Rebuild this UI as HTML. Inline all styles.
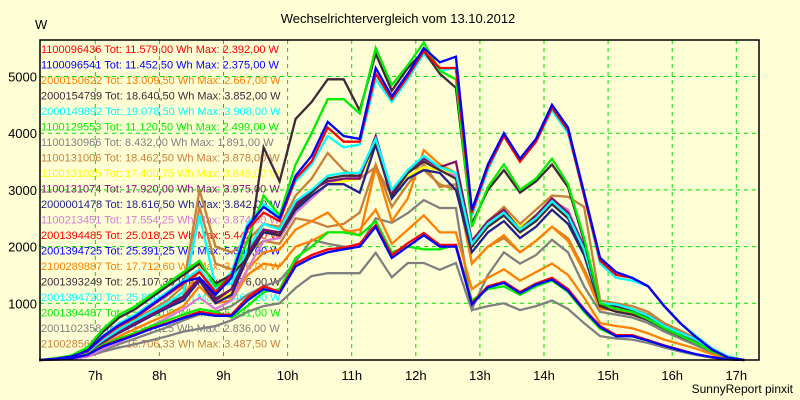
<!DOCTYPE html>
<html><head><meta charset="utf-8"><style>
html,body{margin:0;padding:0;background:#ffffd6;}
svg{display:block;font-family:"Liberation Sans",Arial,sans-serif;}
</style></head><body>
<svg id="chart" width="800" height="400" viewBox="0 0 800 400">
<rect x="0" y="0" width="800" height="400" fill="#ffffd6"/>
<text x="398" y="23" font-size="13" text-anchor="middle">Wechselrichtervergleich vom 13.10.2012</text>
<text x="35" y="29" font-size="13">W</text>
<text x="793" y="393" font-size="12" text-anchor="end">SunnyReport pinxit</text>
<g id="legend"></g>
<g id="grid"></g>
<g id="series"></g>
<g id="axes"></g>
</svg>
<script>
const hourTicks = [7,8,9,10,11,12,13,14,15,16,17];
const valueTicks = [1000,2000,3000,4000,5000];
const startHour = 6.125;
const stepHour = 0.25;

const s01 = [0,10,30,90,250,350,450,560,650,750,850,800,800,1100,1300,1200,1700,1850,1950,1980,2050,2380,1850,2060,2240,2030,2030,1000,1300,1380,1200,1350,1450,1250,900,600,440,440,350,260,180,100,50,10,0];
const s02 = [0,10,30,90,240,340,440,550,640,740,820,780,780,1050,1250,1180,1650,1800,1900,1950,2000,2350,1800,2000,2200,2000,2000,980,1280,1360,1180,1330,1420,1220,880,580,420,420,340,250,170,100,50,10,0];
const s03 = [0,10,30,100,280,420,550,680,800,950,1300,1000,1050,1500,1700,1650,2000,2100,2250,2250,2300,2650,2050,2300,2550,2250,2250,1250,1450,1600,1400,1550,1700,1500,1100,650,600,560,470,360,280,200,100,30,0];
const s04 = [0,10,40,130,340,520,680,830,980,1120,1450,1080,1250,1850,2300,2200,2700,2950,3200,3250,3250,3850,2900,3300,3500,3350,3200,2000,2350,2550,2250,2450,2750,2500,1900,950,950,880,760,580,470,350,180,50,0];
const s05 = [0,10,40,140,360,540,700,850,1000,1200,2550,1300,1350,1950,2400,2300,2800,3000,3250,3300,3300,3900,3000,3350,3600,3400,3300,2050,2400,2600,2300,2500,2800,2550,1950,1000,980,900,780,600,480,360,180,50,0];
const s06 = [0,10,30,100,270,380,480,600,700,800,900,850,750,950,1200,1250,1800,2000,2250,2250,2200,2450,1900,2000,1950,1950,2030,1050,1250,1300,1150,1300,1400,1200,850,550,420,420,340,250,170,100,50,10,0];
const s07 = [0,5,20,60,150,220,280,350,420,500,550,600,700,850,950,1000,1270,1480,1530,1530,1530,1890,1460,1710,1710,1590,1710,880,950,1000,880,950,1050,900,650,420,380,360,300,220,150,90,40,10,0];
const s08 = [0,10,50,150,380,560,720,880,1050,1300,3000,2000,1900,2100,2400,2350,2900,3200,3650,3350,3200,3400,2900,3200,3350,3100,3000,2050,2450,2700,2400,2650,2900,2880,2700,1050,1000,950,850,650,520,380,200,60,0];
const s09 = [0,10,40,120,330,500,650,800,950,1080,1400,1000,1200,1800,2250,2200,2650,2900,3100,3150,3200,3800,2900,3250,3400,3350,3300,2050,2450,2650,2350,2550,2850,2600,1950,980,950,880,760,580,470,350,180,50,0];
const s10 = [0,10,40,120,330,500,650,800,950,1100,1450,1050,1250,1900,2300,2250,2750,3000,3150,3200,3200,3950,2950,3350,3550,3400,3500,2100,2450,2650,2300,2550,2850,2600,2000,980,980,900,780,600,480,360,180,50,0];
const s11 = [0,10,40,120,320,480,630,780,920,1050,1400,1000,1150,1800,2250,2200,2650,2900,3100,3100,2950,3800,2850,3200,3350,3300,3000,1900,2250,2450,2150,2350,2650,2400,1850,950,950,880,760,580,470,350,180,50,0];
const s12 = [0,5,20,60,200,320,450,600,750,900,1100,900,1050,1600,2100,2150,2600,2850,3100,3200,3250,3870,2900,3300,3500,3350,3250,2050,2450,2650,2350,2550,2800,2650,2000,1000,950,880,760,580,470,350,180,50,0];
const s13 = [0,20,60,150,400,600,750,950,1150,1350,1550,1200,1500,2300,2600,2450,3200,3500,4100,3850,3850,5050,4600,5000,5450,5150,5150,2600,3400,3950,3500,3850,4450,4050,2900,1750,1500,1450,1300,950,650,400,180,40,0];
const s14 = [0,20,60,160,420,620,770,970,1170,1380,1450,1150,1450,2350,2700,2500,3250,3600,4200,3950,3900,5150,4650,5050,5500,5250,5350,2650,3450,4000,3550,3900,4500,4100,2950,1800,1550,1450,1300,950,650,400,180,40,0];
const s15 = [0,10,40,130,350,520,680,830,980,1120,1600,1100,1100,1600,1900,1950,2300,2450,2600,2300,2200,3400,2450,2850,3700,3450,3300,1700,2000,2200,1900,2100,2350,2100,1550,900,880,820,720,560,430,320,160,40,0];
const s16 = [0,20,70,200,500,750,900,1100,1300,1500,1700,1350,1500,1800,3750,3150,4250,4550,4950,4950,4400,5400,4750,5150,5450,5050,4800,2400,3000,3350,2950,3150,3450,3050,2100,950,850,800,700,550,420,300,150,40,0];
const s17 = [0,20,60,170,430,650,800,1000,1200,1400,1600,1250,1550,2400,2750,2550,3150,3450,3950,3750,3800,4950,4550,4950,5400,5100,5150,2550,3350,3950,3500,3850,4400,4000,2900,1700,1450,1400,1300,950,650,420,200,60,0];
const s18 = [0,30,80,220,550,800,950,1150,1350,1550,1750,1300,1450,2100,2900,2550,3450,4000,4600,4600,4350,5500,4850,5200,5600,5100,4950,2350,3050,3450,3000,3200,3550,3100,2150,1000,900,850,720,560,430,300,150,40,0];
const s19 = [0,5,20,60,180,280,380,480,580,700,800,850,950,1150,1300,1400,1730,2120,2050,2000,2000,2500,2420,2590,2820,2680,2680,900,1500,1900,1700,1850,2120,1900,1300,850,800,750,650,500,380,260,130,40,0];
const s20 = [0,10,40,130,350,520,680,820,980,1100,2700,1700,1600,1900,2100,2050,2500,2450,2350,2400,2600,3450,2700,3100,3450,3050,3100,1700,2000,2150,1900,2100,2350,2150,1600,1000,950,900,800,620,480,330,160,40,0];

const seriesIds = ["1100096436","1100096541","2000150622","2000154799","2000149892","1100129553","1100130966","1100131006","1100131025","1100131074","2000001478","1100213451","2001394485","2001394725","2100289887","2001393249","2001394720","2001394487","2001102358","2100285656"];
const seriesTot = ["11.579,00","11.452,50","13.009,50","18.640,50","19.078,50","11.120,50","8.432,00","18.462,50","17.400,75","17.920,00","18.616,50","17.554,25","25.018,25","25.391,25","17.712,60","25.107,38","25.890,25","25.440,00","13.941,25","15.706,33"];
const seriesMax = ["2.392,00","2.375,00","2.667,00","3.852,00","3.908,00","2.499,00","1.891,00","3.878,00","3.849,00","3.975,00","3.842,00","3.874,00","5.442,00","5.391,00","3.716,00","5.376,00","5.469,00","5.631,00","2.836,00","3.487,50"];
const seriesValues = [s01,s02,s03,s04,s05,s06,s07,s08,s09,s10,s11,s12,s13,s14,s15,s16,s17,s18,s19,s20];
const seriesColors = ["#ff0000","#0000ff","#ff8000","#402838","#00ffff","#00ee00","#808080","#c8803a","#ffff00","#80106a","#202090","#d878d8","#ff0000","#0000ff","#ff8000","#402838","#00ffff","#00ee00","#808080","#c8803a"];

const NS = "http://www.w3.org/2000/svg";
const L = 40, R = 759, T = 40, B = 360;
function xScale(t){ return 95.3 + (t - 7) * 64.1; }
function yScale(v){ return B - v * 0.0567; }

const legend = document.getElementById('legend');
seriesIds.forEach((id, r) => {
  const t = document.createElementNS(NS, 'text');
  t.setAttribute('x', 41);
  t.setAttribute('y', 53 + r * 15.5);
  t.setAttribute('font-size', '11');
  t.setAttribute('fill', seriesColors[r]);
  t.textContent = id + ' Tot: ' + seriesTot[r] + ' Wh Max: ' + seriesMax[r] + ' W';
  
  
  legend.appendChild(t);
});

const grid = document.getElementById('grid');
hourTicks.forEach(h => {
  const ln = document.createElementNS(NS, 'line');
  const x = xScale(h);
  ln.setAttribute('x1', x); ln.setAttribute('x2', x);
  ln.setAttribute('y1', T); ln.setAttribute('y2', B);
  ln.setAttribute('stroke', '#00e000'); ln.setAttribute('stroke-dasharray', '4,4');
  
  
  grid.appendChild(ln);
});
valueTicks.forEach(v => {
  const ln = document.createElementNS(NS, 'line');
  const y = yScale(v);
  ln.setAttribute('x1', L); ln.setAttribute('x2', R);
  ln.setAttribute('y1', y); ln.setAttribute('y2', y);
  ln.setAttribute('stroke', '#00e000'); ln.setAttribute('stroke-dasharray', '4,4');
  
  
  grid.appendChild(ln);
});

const sg = document.getElementById('series');
const drawOrder = [19,18,6,2,14,7,11,8,10,3,9,4,5,0,1,16,15,17,12,13];
drawOrder.forEach(si => {
  const vals = seriesValues[si];
  const pts = vals.map((v,k) => xScale(startHour + stepHour*k).toFixed(1) + ',' + yScale(v).toFixed(1)).join(' ');
  const pl = document.createElementNS(NS, 'polyline');
  pl.setAttribute('points', pts);
  pl.setAttribute('fill', 'none');
  pl.setAttribute('stroke', seriesColors[si]);
  pl.setAttribute('stroke-width', '2.3');
  
  
  sg.appendChild(pl);
});

const axes = document.getElementById('axes');
const frame = document.createElementNS(NS, 'rect');
frame.setAttribute('x', L); frame.setAttribute('y', T);
frame.setAttribute('width', R - L); frame.setAttribute('height', B - T);
frame.setAttribute('fill', 'none'); frame.setAttribute('stroke', '#000'); frame.setAttribute('stroke-width', '1.5');


axes.appendChild(frame);
valueTicks.forEach(v => {
  const t = document.createElementNS(NS, 'text');
  t.setAttribute('x', 37); t.setAttribute('y', yScale(v) + 5);
  t.setAttribute('font-size', '13'); t.setAttribute('text-anchor', 'end');
  t.textContent = v;
  
  
  axes.appendChild(t);
});
hourTicks.forEach(h => {
  const t = document.createElementNS(NS, 'text');
  t.setAttribute('x', xScale(h)); t.setAttribute('y', 380);
  t.setAttribute('font-size', '13'); t.setAttribute('text-anchor', 'middle');
  t.textContent = h + 'h';
  
  
  axes.appendChild(t);
});
</script>
</body></html>
